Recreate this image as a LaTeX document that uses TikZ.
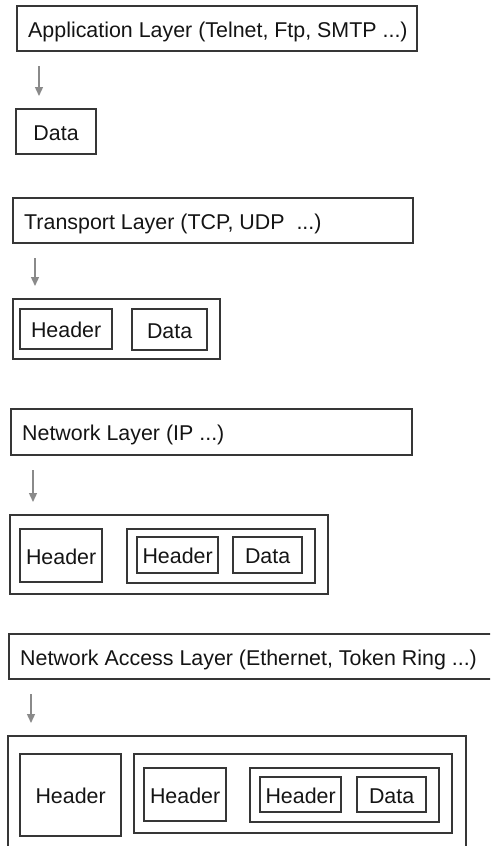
\documentclass[tikz,border=0pt]{standalone}
\usepackage{fontspec}
\setmainfont{Liberation Sans}
\usetikzlibrary{arrows.meta,positioning,calc}
\definecolor{cInk}{HTML}{141414}
\definecolor{cEdge}{HTML}{363636}
\definecolor{cArrow}{HTML}{8A8A8A}
\tikzset{
  box/.style={rectangle, draw=cEdge, line width=2.2pt, inner sep=0pt,
    anchor=north west, text=cInk, text height=17pt, text depth=0pt},
  laytext/.style={inner sep=0pt, text=cInk, text height=17pt, text depth=0pt},
}

\begin{document}
\begin{tikzpicture}[
  x=1pt, y=-1pt,
  font=\fontsize{21.4}{25}\selectfont,
  node distance=12pt,
  flow/.style={-{Triangle[length=9pt,width=8pt]}, line width=1.4pt, cArrow,
    shorten <=14pt, shorten >=12pt},
]
\clip (0,0) rectangle (490,846);
% application layer
\node[box, minimum width=400pt, minimum height=45pt] (app) at (16,5) {};
\node[laytext, right=of app.west] {Application Layer (Telnet, Ftp, SMTP ...)};
\node[box, minimum width=80pt, minimum height=45pt] (msg) at (15,108) {Data};
% transport layer
\node[box, minimum width=400pt, minimum height=45pt] (trans) at (12,197) {};
\node[laytext, right=of trans.west] {Transport Layer (TCP, UDP~~...)};
\node[box, minimum width=207pt, minimum height=60pt] (seg) at (12,298) {};
\node[box, minimum width=92pt, minimum height=40pt] (segh) at (19,308) {Header};
\node[box, minimum width=75pt, minimum height=41pt] (segd) at (131,308) {Data};
% network layer
\node[box, minimum width=401pt, minimum height=46pt] (net) at (10,408) {};
\node[laytext, right=of net.west] {Network Layer (IP ...)};
\node[box, minimum width=318pt, minimum height=79pt] (dgram) at (9,514) {};
\node[box, minimum width=82pt, minimum height=53pt] (dgh) at (19,528) {Header};
\node[box, minimum width=188pt, minimum height=54pt] (dgseg) at (126,528) {};
\node[box, minimum width=81pt, minimum height=36pt] (dgsegh) at (136,536) {Header};
\node[box, minimum width=69pt, minimum height=36pt] (dgsegd) at (232,536) {Data};
% network access layer
\node[box, minimum width=495pt, minimum height=45pt] (acc) at (8,633) {};
\node[laytext, right=of acc.west] {Network Access Layer (Ethernet, Token Ring ...)};
\node[box, minimum width=458pt, minimum height=120pt] (frame) at (7,735) {};
\node[box, minimum width=101pt, minimum height=82pt] (frh) at (19,753) {Header};
\node[box, minimum width=318pt, minimum height=79pt] (frdg) at (133,753) {};
\node[box, minimum width=82pt, minimum height=53pt] (frdgh) at (143,767) {Header};
\node[box, minimum width=189pt, minimum height=54pt] (frseg) at (249,767) {};
\node[box, minimum width=81pt, minimum height=35pt] (frsegh) at (259,776) {Header};
\node[box, minimum width=69pt, minimum height=35pt] (frsegd) at (356,776) {Data};
% arrows
\coordinate (a1) at ([xshift=23pt]app.south west);
\coordinate (a2) at ([xshift=23pt]trans.south west);
\coordinate (a3) at ([xshift=23pt]net.south west);
\coordinate (a4) at ([xshift=23pt]acc.south west);
\draw[flow] (a1) -- (a1 |- msg.north);
\draw[flow] (a2) -- (a2 |- seg.north);
\draw[flow] (a3) -- (a3 |- dgram.north);
\draw[flow] (a4) -- (a4 |- frame.north);
\end{tikzpicture}
\end{document}
